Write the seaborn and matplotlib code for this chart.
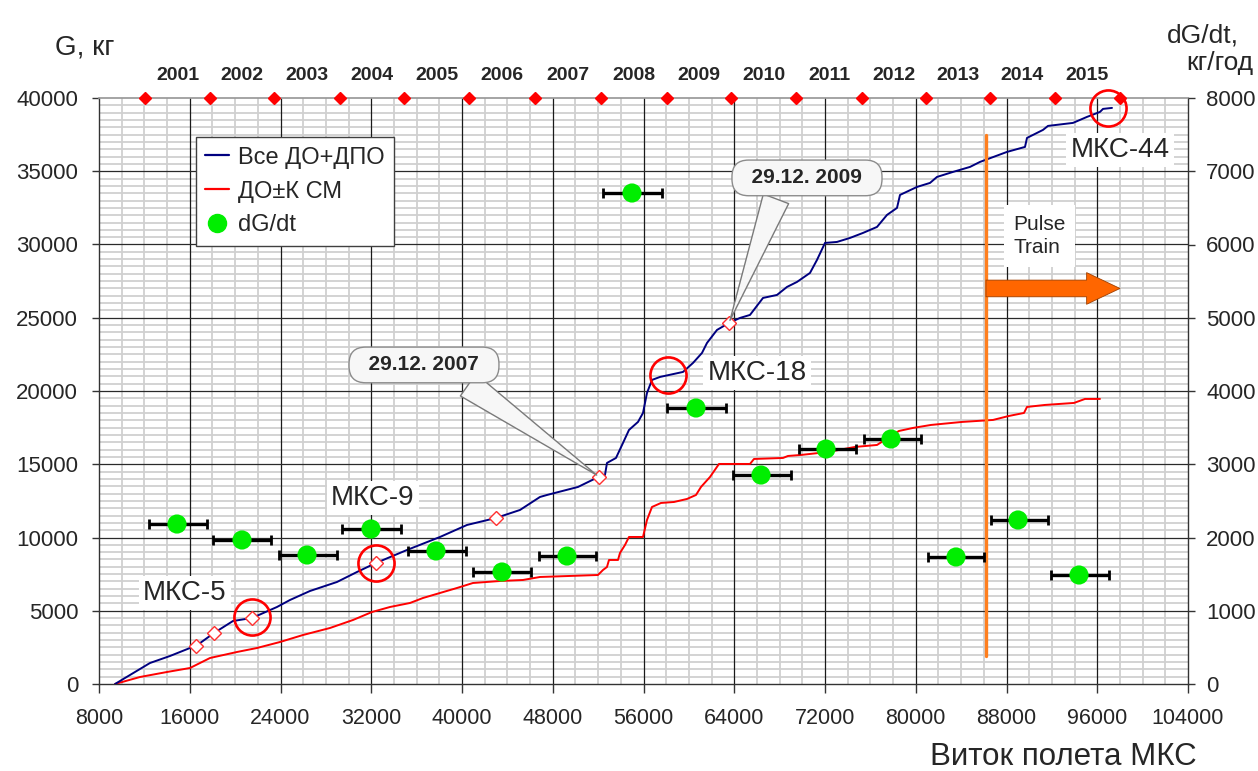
import matplotlib
matplotlib.use("Agg")
import matplotlib.pyplot as plt
import matplotlib.transforms as mtransforms
from matplotlib.ticker import MultipleLocator
from matplotlib.lines import Line2D
import seaborn as sns

# ---- data ----
# "Все ДО+ДПО" (all debris + fragments), kg vs ISS orbit number
blue_x = [9410, 12496, 14259, 16022, 16551, 18138, 19812, 21487, 23691, 24837,
          26600, 28980, 30743, 32418, 35151, 38060, 40440, 42997, 45112, 46875,
          47493, 50226, 52076, 52605, 52781, 53575, 54192, 54721, 55515, 55956,
          56308, 56749, 57454, 59482, 60363, 61157, 61598, 62479, 63537, 64507,
          65388, 66534, 67768, 68650, 69531, 70677, 71294, 72000, 73058, 74204,
          75350, 76584, 77466, 78347, 78612, 80111, 81257, 81874, 83284, 84783,
          85664, 88044, 89631, 89807, 91217, 91658, 93862, 95096, 96242, 96507,
          97300]
blue_y = [0, 1434, 1912, 2458, 2594, 3482, 4301, 4506, 5257, 5735,
          6349, 6964, 7646, 8261, 9148, 10036, 10855, 11333, 11879, 12767,
          12903, 13450, 14150, 14269, 15088, 15430, 16454, 17342, 17888, 18502,
          19868, 20755, 20960, 21301, 21915, 22598, 23280, 24168, 24646, 24987,
          25192, 26352, 26557, 27103, 27445, 28059, 28947, 30107, 30175, 30448,
          30790, 31199, 32019, 32497, 33384, 33930, 34203, 34613, 34954, 35296,
          35637, 36320, 36661, 37276, 37822, 38095, 38300, 38710, 39051, 39256,
          39324]

# "ДО±К СМ"
red_x = [9410, 11614, 13994, 16022, 17785, 20165, 21928, 23956, 25983, 28363,
         30391, 32066, 33653, 35415, 36561, 38060, 39559, 40969, 43349, 45376,
         46875, 51988, 52429, 52781, 52957, 53751, 53927, 54368, 54721, 55955,
         56308, 56749, 57542, 58688, 59834, 60628, 61069, 61862, 62655, 65388,
         65741, 68297, 68738, 69884, 72264, 74644, 76584, 78524, 79758, 81345,
         84078, 86811, 88221, 89543, 89807, 91394, 93950, 94920, 96242]
red_y = [0, 478, 819, 1092, 1775, 2185, 2458, 2867, 3345, 3823,
         4369, 4915, 5257, 5530, 5871, 6213, 6554, 6895, 7032, 7100,
         7305, 7441, 7783, 7988, 8466, 8466, 8944, 9490, 10036, 10036,
         11196, 12084, 12357, 12425, 12630, 12903, 13450, 14132, 15020, 15020,
         15361, 15430, 15566, 15635, 15839, 16181, 16317, 17273, 17478, 17683,
         17888, 18024, 18297, 18502, 18912, 19048, 19185, 19458, 19458]

# open diamonds on the blue curve
mark_x = [16551, 18138, 21487, 32418, 42997, 52076, 63537]
mark_y = [2594, 3482, 4506, 8261, 11333, 14150, 24646]

# expeditions circled in red
exp_names = ["МКС-5", "МКС-9", "МКС-18", "МКС-44"]
exp_x = [21487, 32418, 58159, 96946]
exp_y = [4574, 8261, 21096, 39325]

# year boundaries (orbit number) and year labels
year_edges = [12055, 17785, 23427, 29245, 34887, 40617, 46435, 52253,
              58071, 63713, 69443, 75261, 80901, 86543, 92273, 98002]
years = [str(y) for y in range(2001, 2016)]

# dG/dt, kg per year (right axis), with orbit ranges
dg_x = [14876, 20606, 26336, 31977, 37707, 43526, 49255, 54986,
        60628, 66358, 72088, 77818, 83548, 89014, 94391]
dg_y = [2184, 1966, 1761, 2116, 1816, 1529, 1747, 6703,
        3768, 2853, 3208, 3345, 1734, 2239, 1488]
dg_lo = [12408, 18049, 23868, 29421, 35239, 40969, 46787, 52429,
         58071, 63889, 69707, 75438, 81080, 86634, 91923]
dg_hi = [17520, 23163, 28980, 34622, 40352, 46082, 51812, 57630,
         63272, 69002, 74732, 80463, 86017, 91658, 97035]

pulse_x = 86191

sns.set_theme(style="ticks")
plt.rcParams['font.family'] = ['Liberation Sans', 'DejaVu Sans']

fig = plt.figure(figsize=(12.58, 7.71), dpi=100)
ax = fig.add_axes([99 / 1258, 87 / 771, 1089 / 1258, 586 / 771])

ax.set_xlim(8000, 104000)
ax.set_ylim(0, 40000)
ax.xaxis.set_major_locator(MultipleLocator(8000))
ax.xaxis.set_minor_locator(MultipleLocator(2000))
ax.yaxis.set_major_locator(MultipleLocator(5000))
ax.yaxis.set_minor_locator(MultipleLocator(500))
ax.set_axisbelow(True)
ax.grid(which='minor', color='#D0D0D0', lw=1.3)
ax.grid(which='major', visible=False)
# major grid on top of the minor one
for gx in range(16000, 104000, 8000):
    ax.axvline(gx, color='#1A1A1A', lw=0.9, zorder=0.8)
for gy in range(5000, 40000, 5000):
    ax.axhline(gy, color='#2A2A2A', lw=0.9, zorder=0.8)
ax.tick_params(which='minor', length=0)
ax.tick_params(axis='x', which='major', length=6.5, width=1, color='#333333',
               pad=11, labelsize=15.5)
ax.tick_params(axis='y', which='major', length=5, width=1, color='#333333',
               pad=10, labelsize=16)
for side in ['left', 'bottom', 'right']:
    ax.spines[side].set_color('#333333')
    ax.spines[side].set_linewidth(1)
ax.spines['top'].set_color('#999999')

sns.lineplot(x=blue_x, y=blue_y, ax=ax, color='#000080', lw=1.4, sort=False,
             estimator=None, legend=False, zorder=4)
sns.lineplot(x=red_x, y=red_y, ax=ax, color='#FF0000', lw=1.4, sort=False,
             estimator=None, legend=False, zorder=3)
ax.plot(mark_x, mark_y, 'D', ms=7, mfc='white', mec='#FF3030', mew=1, zorder=5)
ax.plot(exp_x, exp_y, 'o', ms=26, mfc='none', mec='#FF0000', mew=1.9, zorder=6,
        clip_on=False)

# year markers on top
ax.plot(year_edges, [40000] * len(year_edges), 'D', ms=6, color='#FF0000',
        mec='#FF0000', clip_on=False, zorder=7)
trans = mtransforms.blended_transform_factory(ax.transData, ax.transAxes)
for i, yr in enumerate(years):
    mid = (year_edges[i] + year_edges[i + 1]) / 2
    ax.text(mid, 1.039, yr, transform=trans, ha='center', va='center',
            fontsize=14, fontweight='bold')

# expedition labels
label_pos = [(15581, 6213), (32154, 12699), (66004, 21233), (98002, 36458)]
for name, (lx, ly) in zip(exp_names, label_pos):
    ax.text(lx, ly, name, ha='center', va='center', fontsize=20, zorder=8,
            bbox=dict(boxstyle='square,pad=0.15', fc='white', ec='none'))

# callouts
for txt, xy, xytext, rp in [("  29.12. 2007  ", (52076, 14150), (36650, 21779), 0.72),
                            ("  29.12. 2009  ", (63537, 24646), (70412, 34546), 0.3)]:
    ax.annotate(txt, xy=xy, xytext=xytext, ha='center', va='center',
                fontsize=15, fontweight='bold', zorder=9,
                bbox=dict(boxstyle='round,pad=0.4,rounding_size=0.8',
                          fc='#F7F7F7', ec='#8C8C8C', lw=1),
                arrowprops=dict(arrowstyle='wedge,tail_width=1.3,shrink_factor=0.5',
                                fc='#F7F7F7', ec='#7A7A7A', lw=1,
                                relpos=(rp, 0.0)))

# pulse train marker
ax.plot([pulse_x, pulse_x], [1912, 37482], color='#FF7F1E', lw=2.4, zorder=5)
ax.annotate('', xy=(98002, 27000), xytext=(pulse_x, 27000), zorder=6,
            arrowprops=dict(arrowstyle='simple,head_length=1.0,head_width=0.95,tail_width=0.5',
                            fc='#FF6600', ec='#A04000', lw=0.6,
                            shrinkA=0, shrinkB=0, mutation_scale=24))
ax.text(88600, 30586, "Pulse\nTrain", ha='left', va='center', fontsize=15,
        linespacing=1.3, zorder=6,
        bbox=dict(boxstyle='square,pad=0.45', fc='white', ec='none'))

# right axis: dG/dt
ax2 = ax.twinx()
ax2.set_ylim(0, 8000)
ax2.yaxis.set_major_locator(MultipleLocator(1000))
ax2.tick_params(axis='y', length=5, width=1, color='#333333', pad=8, labelsize=16)
ax2.grid(False)
for s in ax2.spines.values():
    s.set_visible(False)
xerr = [[x - lo for x, lo in zip(dg_x, dg_lo)], [hi - x for x, hi in zip(dg_x, dg_hi)]]
ax2.errorbar(dg_x, dg_y, xerr=xerr, fmt='none', ecolor='black', elinewidth=2.4,
             capsize=3.5, capthick=2, zorder=3)
sns.scatterplot(x=dg_x, y=dg_y, ax=ax2, s=190, color='#00EE00', edgecolor='none',
                zorder=4, legend=False)

handles = [Line2D([], [], color='#000080', lw=1.6),
           Line2D([], [], color='#FF0000', lw=1.6),
           Line2D([], [], ls='none', marker='o', ms=13, color='#00EE00')]
leg = ax2.legend(handles, ['Все ДО+ДПО', 'ДО±К СМ', 'dG/dt'], loc='upper left',
                 bbox_to_anchor=(0.089, 0.933), fontsize=17, frameon=True,
                 fancybox=False, framealpha=1, edgecolor='#404040',
                 handlelength=1.0, handletextpad=0.4, labelspacing=0.5,
                 borderpad=0.4, borderaxespad=0)
leg.get_frame().set_linewidth(1)

fig.text(85 / 1258, 1 - 47 / 771, "G, кг", ha='center', va='center', fontsize=20)
fig.text(1239 / 1258, 1 - 35 / 771, "dG/dt,", ha='right', va='center', fontsize=19)
fig.text(1253 / 1258, 1 - 63 / 771, "кг/год", ha='right', va='center', fontsize=19)
fig.text(1063 / 1258, 1 - 757 / 771, "Виток полета МКС", ha='center', va='center',
         fontsize=22.5)

fig.savefig("out.png", dpi=100)
